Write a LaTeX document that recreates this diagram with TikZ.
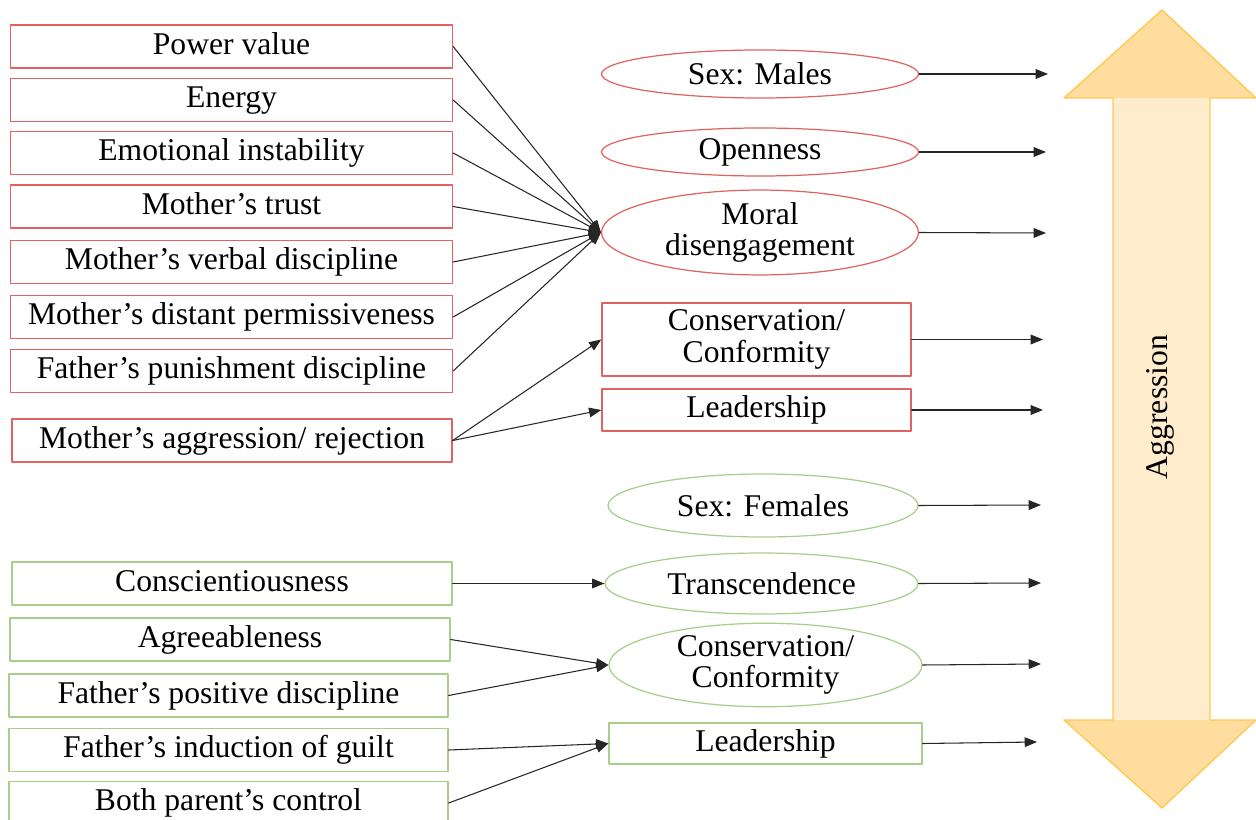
\documentclass[tikz,border=0pt]{standalone}
\usepackage{fontspec}
\setmainfont{Liberation Serif}
\usetikzlibrary{arrows.meta,shapes.geometric}
\definecolor{boxred}{RGB}{226,98,98}
\definecolor{boxgreen}{RGB}{166,208,138}
\definecolor{headfill}{RGB}{254,221,158}
\definecolor{shaftfill}{RGB}{255,236,204}
\definecolor{arrowedge}{RGB}{255,202,84}

\begin{document}
\begin{tikzpicture}[x=0.02cm,y=-0.02cm,line cap=round,line join=round,
    >={Triangle[length=7pt,width=5.5pt]},
    every node/.style={font=\fontsize{18}{17.8}\selectfont,align=center,inner sep=0pt},
    oneline/.style={text height=12.2pt,text depth=3.4pt},
    redbox/.style={draw=boxred,line width=0.8pt,minimum width=8.84cm,minimum height=0.86cm},
    greenbox/.style={draw=boxgreen,line width=0.8pt,minimum width=8.8cm,minimum height=0.86cm},
    redoval/.style={draw=boxred,line width=0.7pt,ellipse,minimum width=6.34cm},
    greenoval/.style={draw=boxgreen,line width=0.7pt,ellipse,minimum width=6.24cm},
    link/.style={->,line width=0.6pt,draw=black!85}]
                \useasboundingbox (0,0) rectangle (1256,820);
                \fill [shaftfill] (1113,98) rectangle (1210,720);
                \fill [headfill] (1162,10) -- (1256,98) -- (1064,98) -- cycle;
                \fill [headfill] (1162,808) -- (1256,720) -- (1064,720) -- cycle;
                \draw [arrowedge,line width=0.8pt] (1162,10) -- (1256,98) -- (1210,98) -- (1210,720) -- (1256,720) -- (1162,808) -- (1064,720) -- (1113,720) -- (1113,98) -- (1064,98) -- cycle;
                \node [rotate=90,oneline] (aggr) at (1160,407) {Aggression};
                \node [redbox,oneline] (power) at (231.5,46.5) {Power value};
                \node [redbox,oneline] (energy) at (231.5,100) {Energy};
                \node [redbox,oneline] (emotion) at (231.5,153) {Emotional instability};
                \node [redbox,oneline] (mtrust) at (231.5,206.5) {Mother’s trust};
                \node [redbox,oneline] (mverbal) at (231.5,262) {Mother’s verbal discipline};
                \node [redbox,oneline] (mdistant) at (231.5,317) {Mother’s distant permissiveness};
                \node [redbox,oneline] (fpunish) at (231.5,371) {Father’s punishment discipline};
                \node [redbox,oneline,minimum width=8.8cm] (maggr) at (232,440.5) {Mother’s aggression/ rejection};
                \node [greenbox,oneline] (consc) at (232,583.5) {Conscientiousness};
                \node [greenbox,oneline] (agree) at (230,639.5) {Agreeableness};
                \node [greenbox,oneline,minimum width=8.78cm] (fpositive) at (228.5,695.5) {Father’s positive discipline};
                \node [greenbox,oneline,minimum width=8.78cm] (fguilt) at (228.5,750) {Father’s induction of guilt};
                \node [greenbox,oneline,minimum width=8.78cm] (bcontrol) at (228.5,803) {Both parent’s control};
                \node [redoval,minimum height=0.96cm] (males) at (760,74) {Sex: Males};
                \node [redoval,minimum height=0.96cm] (open) at (760,152) {Openness};
                \node [redoval,minimum height=1.34cm] (moral) at (760,232.5) {Moral\\disengagement};
                \node [redbox,minimum width=6.18cm,minimum height=1.46cm] (conred) at (756.5,339.5) {Conservation/\\Conformity};
                \node [redbox,minimum width=6.18cm,minimum height=0.84cm] (leadred) at (756.5,410) {Leadership};
                \node [greenoval,minimum width=6.2cm,minimum height=1.26cm] (females) at (763,505.5) {Sex: Females};
                \node [greenoval,minimum width=6.26cm,minimum height=1.22cm] (transc) at (761.5,583.5) {Transcendence};
                \node [greenoval,minimum width=6.26cm,minimum height=1.48cm] (congreen) at (765.5,665) {Conservation/\\Conformity};
                \node [greenbox,minimum width=6.26cm,minimum height=0.82cm] (leadgreen) at (765.5,743.5) {Leadership};
                \coordinate (e1) at (1048,74);
                \coordinate (e2) at (1046,152);
                \coordinate (e3) at (1046,233);
                \coordinate (e4) at (1043,339.5);
                \coordinate (e5) at (1043,410);
                \coordinate (e6) at (1041,505);
                \coordinate (e7) at (1041,583);
                \coordinate (e8) at (1041,664);
                \coordinate (e9) at (1037,742);
                \foreach \src in {power,energy,emotion,mtrust,mverbal,mdistant,fpunish}
                    \draw [link] (\src.east) -- (moral.west);
                \draw [link] (maggr.east) -- (conred.west);
                \draw [link] (maggr.east) -- (leadred.west);
                \draw [link] (consc.east) -- (transc.west);
                \draw [link] (agree.east) -- (congreen.west);
                \draw [link] (fpositive.east) -- (congreen.west);
                \draw [link] (fguilt.east) -- (leadgreen.west);
                \draw [link] (bcontrol.east) -- (leadgreen.west);
                \draw [link] (males.east) -- (e1);
                \draw [link] (open.east) -- (e2);
                \draw [link] (moral.east) -- (e3);
                \draw [link] (conred.east) -- (e4);
                \draw [link] (leadred.east) -- (e5);
                \draw [link] (females.east) -- (e6);
                \draw [link] (transc.east) -- (e7);
                \draw [link] (congreen.east) -- (e8);
                \draw [link] (leadgreen.east) -- (e9);
            \end{tikzpicture}
\end{document}
